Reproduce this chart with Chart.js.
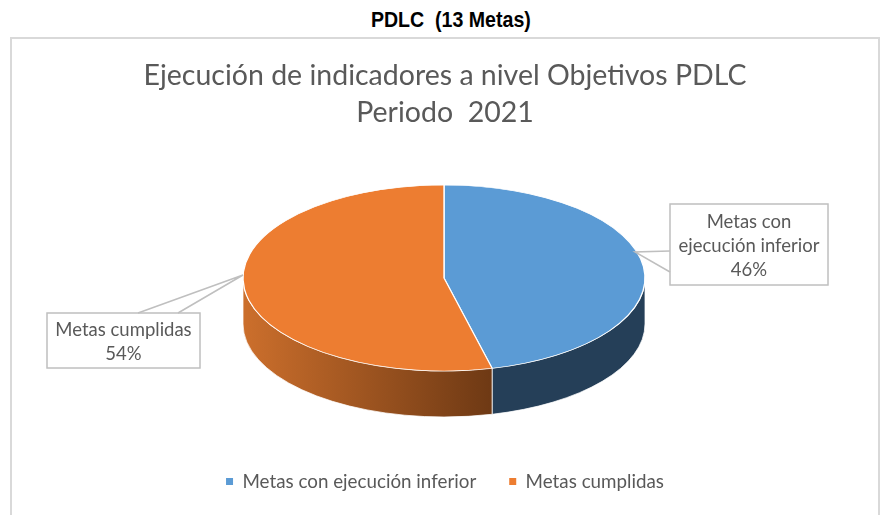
<!DOCTYPE html>
<html>
<head>
<meta charset="utf-8">
<script src="https://cdn.jsdelivr.net/npm/chart.js@4/dist/chart.umd.min.js"></script>
<style>
  body { margin: 0; background: #fff; width: 881px; height: 515px; overflow: hidden; position: relative; }
  #hdr { position: absolute; left: 10px; top: 7px; width: 881px; text-align: center; }
  #hdr span { display: inline-block; transform: scaleX(0.89);
         font: bold 22px 'Liberation Sans Narrow', 'Arial Narrow', 'Liberation Sans', sans-serif; color: #000; }
  #box { position: absolute; left: 10px; top: 37px; width: 866px; height: 490px; border: 2px solid #d9d9d9; }
  #wrap { position: absolute; left: 0; top: 0; width: 866px; height: 476px; }
</style>
</head>
<body>
<div id="hdr"><span>PDLC&nbsp; (13 Metas)</span></div>
<div id="box"><div id="wrap"><canvas id="pieChart"></canvas></div></div>
<script>
// data
const categories = ['Metas con ejecución inferior', 'Metas cumplidas'];
const metas = [6, 7];
const colors = ['#5b9bd5', '#ed7d31'];
const titleLines = ['Ejecución de indicadores a nivel Objetivos PDLC', 'Periodo  2021'];

// 3d look: ellipse centre, radii and depth (canvas px)
const CX = 432, CY = 239, RX = 201, RY = 93, DEPTH = 46;

// callout boxes (x, y, w, h, tip, base points on the box edge)
const callouts = [
  { x: 658, y: 165, w: 158, h: 81, tip: [623, 213], base: [[658, 212], [658, 233]] },
  { x: 35, y: 274, w: 153, h: 55, tip: [231, 236], base: [[126, 274], [166, 274]] }
];

const total = metas.reduce((a, b) => a + b, 0);

function sideFill(ctx, i, a, b) {
  if (i === 0) return '#253f58';
  const x0 = CX + RX * Math.cos(b), x1 = CX + RX * Math.cos(a);
  const g = ctx.createLinearGradient(x0, 0, x1, 0);
  g.addColorStop(0, '#cc6f2c');
  g.addColorStop(1, '#6e3914');
  return g;
}

const pie3d = {
  id: 'pie3d',
  beforeDatasetsDraw(chart) {
    const ctx = chart.ctx;
    const arcs = chart.getDatasetMeta(0).data;
    const { x, y, outerRadius } = arcs[0].getProps(['x', 'y', 'outerRadius'], true);
    arcs.forEach((arc, i) => {
      const { startAngle, endAngle } = arc.getProps(['startAngle', 'endAngle'], true);
      const a = Math.max(startAngle, 0), b = Math.min(endAngle, Math.PI);
      if (b <= a) return;
      ctx.beginPath();
      ctx.ellipse(CX, CY, RX, RY, 0, a, b);
      ctx.ellipse(CX, CY + DEPTH, RX, RY, 0, b, a, true);
      ctx.closePath();
      ctx.fillStyle = sideFill(ctx, i, a, b);
      ctx.fill();
      ctx.strokeStyle = 'rgba(255,255,255,0.75)';
      ctx.lineWidth = 1;
      ctx.stroke();
    });
    ctx.save();
    ctx.translate(CX, CY);
    ctx.scale(RX / outerRadius, RY / outerRadius);
    ctx.translate(-x, -y);
  },
  afterDatasetsDraw(chart) {
    chart.ctx.restore();
  }
};

function wrap(ctx, text, maxW) {
  const words = text.split(' ');
  const lines = [];
  let cur = '';
  words.forEach(w => {
    const t = cur ? cur + ' ' + w : w;
    if (cur && ctx.measureText(t).width > maxW) { lines.push(cur); cur = w; } else { cur = t; }
  });
  lines.push(cur);
  return lines;
}

const calloutPlugin = {
  id: 'callouts',
  afterDraw(chart) {
    const ctx = chart.ctx;
    ctx.save();
    ctx.font = '18.5px Lato, sans-serif';
    ctx.textAlign = 'center';
    ctx.textBaseline = 'middle';
    callouts.forEach((c, i) => {
      ctx.fillStyle = '#fff';
      ctx.fillRect(c.x, c.y, c.w, c.h);
      ctx.strokeStyle = '#bfbfbf';
      ctx.lineWidth = 1.5;
      ctx.strokeRect(c.x, c.y, c.w, c.h);
      // pointer
      ctx.beginPath();
      ctx.moveTo(c.base[0][0], c.base[0][1]);
      ctx.lineTo(c.tip[0], c.tip[1]);
      ctx.lineTo(c.base[1][0], c.base[1][1]);
      ctx.stroke();
      const pct = Math.round(metas[i] / total * 100) + '%';
      const lines = wrap(ctx, categories[i], c.w - 10).concat([pct]);
      const lh = 24;
      const y0 = c.y + c.h / 2 - (lines.length - 1) * lh / 2 + 2;
      ctx.fillStyle = '#595959';
      lines.forEach((l, k) => ctx.fillText(l, c.x + c.w / 2, y0 + k * lh));
    });
    ctx.restore();
  }
};

new Chart(document.getElementById('pieChart'), {
  type: 'pie',
  data: {
    labels: categories,
    datasets: [{
      data: metas,
      backgroundColor: colors,
      borderColor: '#ffffff',
      borderWidth: 1,
      clip: false
    }]
  },
  options: {
    responsive: true,
    maintainAspectRatio: false,
    animation: false,
    events: [],
    layout: { padding: { bottom: 14 } },
    plugins: {
      title: {
        display: true,
        text: titleLines,
        color: '#595959',
        font: { family: 'Lato, sans-serif', size: 28.5, weight: 'normal', lineHeight: 1.3 },
        padding: { top: 18, bottom: 10 }
      },
      legend: {
        position: 'bottom',
        labels: {
          color: '#595959',
          font: { family: 'Lato, sans-serif', size: 18.8 },
          usePointStyle: true,
          pointStyle: 'rect',
          boxWidth: 7,
          boxHeight: 7,
          padding: 33,
          generateLabels: chart => Chart.overrides.pie.plugins.legend.labels.generateLabels(chart)
            .map(l => ({ ...l, lineWidth: 0, strokeStyle: 'transparent' }))
        }
      },
      tooltip: { enabled: false }
    }
  },
  plugins: [pie3d, calloutPlugin]
});
</script>
</body>
</html>
